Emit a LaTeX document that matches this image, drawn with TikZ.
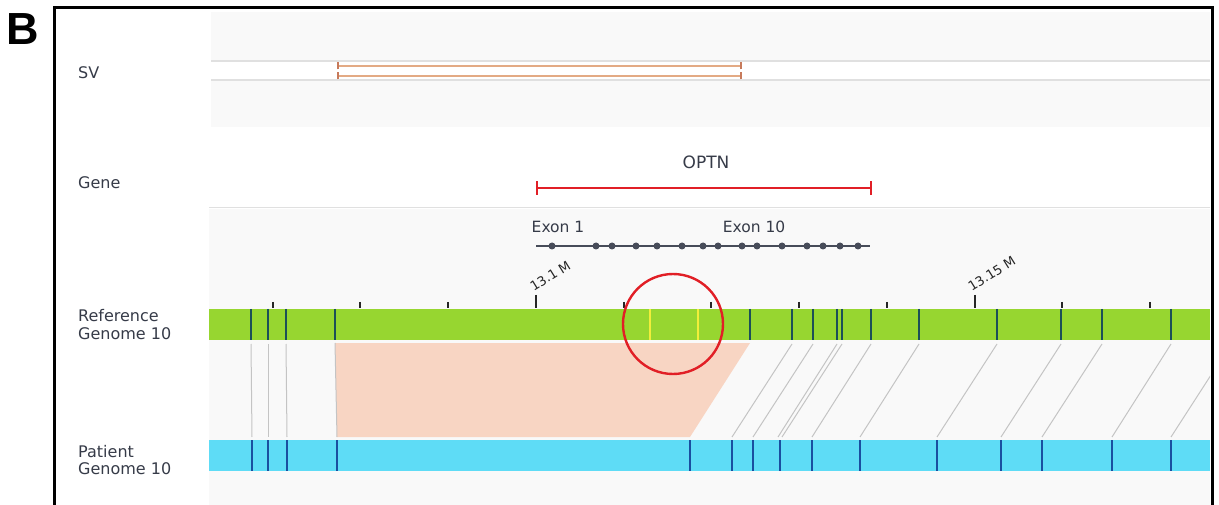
\documentclass[tikz,border=0pt]{standalone}
\usepackage{fontspec}
\setmainfont{DejaVu Sans}
\newfontfamily\panelfont{Liberation Sans}
\definecolor{panelgray}{HTML}{F9F9F9}
\definecolor{rulegray}{HTML}{E0E0E0}
\definecolor{labelgray}{HTML}{363B48}
\definecolor{refgreen}{HTML}{97D630}
\definecolor{patblue}{HTML}{5EDCF6}
\definecolor{greenmark}{HTML}{1C4F58}
\definecolor{bluemark}{HTML}{1A4FA0}
\definecolor{pinkfill}{HTML}{F8D5C3}
\definecolor{linkgray}{HTML}{C4C4C4}
\definecolor{genered}{HTML}{E11F26}
\definecolor{svtan}{HTML}{E3AA84}
\definecolor{svtick}{HTML}{C77A5B}
\definecolor{exongray}{HTML}{474C59}
\definecolor{markyellow}{HTML}{F2EE3A}
\begin{document}
\begin{tikzpicture}[x=1pt,y=-1pt,
  tracklabel/.style={font=\fontsize{16}{16}\selectfont, text=labelgray, anchor=base west, inner sep=0pt},
  exonlabel/.style={font=\fontsize{15.5}{15.5}\selectfont, text=labelgray, anchor=base, inner sep=0pt},
  ticklabel/.style={font=\fontsize{13}{13}\selectfont, text=black!85, rotate=32, anchor=south west, inner sep=0pt},
  rule/.style={draw=rulegray, line width=1.5pt},
  svline/.style={draw=svtan, line width=2.6pt},
  svend/.style={draw=svtick, line width=1.2pt},
  genebar/.style={draw=genered, line width=2.8pt},
  exonline/.style={draw=exongray, line width=2.2pt},
  exondot/.style={circle, fill=exongray, inner sep=0pt, minimum size=7pt},
  rulertick/.style={draw=black!85, line width=2pt},
  gmark/.style={draw=greenmark, line width=2.4pt},
  bmark/.style={draw=bluemark, line width=2.4pt},
  ymark/.style={draw=markyellow, line width=1.8pt},
  link/.style={draw=linkgray, line width=1pt},
]
\useasboundingbox (0,0) rectangle (1219,505);

% track panels
\fill[panelgray] (211,12) rectangle (1210,127);
\fill[white] (211,61) rectangle (1210,80);
\draw[rule] (211,61) -- (1210,61);
\draw[rule] (211,80) -- (1210,80);
\fill[panelgray] (209,209) rectangle (1210,505);
\draw[rule] (209,207.5) -- (1210,207.5);

% panel letter
\node[font=\panelfont\bfseries\fontsize{45}{45}\selectfont, anchor=base west, inner sep=0pt] (letter) at (6,45) {B};

% track labels
\node[tracklabel] (svlab) at (78,79) {SV};
\node[tracklabel] (genelab) at (78,189) {Gene};
\node[tracklabel] (reflab) at (78,321) {Reference};
\node[tracklabel] (reflabb) at (78,339) {Genome 10};
\node[tracklabel] (patlab) at (78,457) {Patient};
\node[tracklabel] (patlabb) at (78,474) {Genome 10};

% structural variant call
\foreach \y [count=\i] in {66,76} {
  \coordinate (svL\i) at (338,\y);
  \coordinate (svR\i) at (741,\y);
  \draw[svline] (svL\i) -- (svR\i);
  \draw[svend] ([yshift=-3.5pt]svL\i) -- ([yshift=3.5pt]svL\i);
  \draw[svend] ([yshift=-3.5pt]svR\i) -- ([yshift=3.5pt]svR\i);
}

% OPTN gene span
\node[font=\fontsize{17}{17}\selectfont, text=labelgray, anchor=base, inner sep=0pt] (optn) at (706,169) {OPTN};
\coordinate (optnL) at (537,188);
\coordinate (optnR) at (871,188);
\draw[genebar] (optnL) -- (optnR);
\draw[genebar] ([yshift=-7pt]optnL) -- ([yshift=7pt]optnL);
\draw[genebar] ([yshift=-7pt]optnR) -- ([yshift=7pt]optnR);

% exons
\node[exonlabel] (ex1) at (558,233) {Exon 1};
\node[exonlabel] (ex10) at (754,233) {Exon 10};
\coordinate (exL) at (536,246);
\coordinate (exR) at (870,246);
\draw[exonline] (exL) -- (exR);
\foreach \x [count=\i] in {552,596,612,636,657,682,703,718,742,757,782,807,823,840,858}
  \node[exondot] (exon\i) at (\x,246) {};

% coordinate ruler
\foreach \k in {0,...,10} {
  \pgfmathsetmacro\tx{272.5+87.75*\k}
  \ifnum\k=3 \draw[rulertick] (\tx,295) -- (\tx,308);
  \else\ifnum\k=8 \draw[rulertick] (\tx,295) -- (\tx,308);
  \else \draw[rulertick] (\tx,302) -- (\tx,308); \fi\fi
}
\node[ticklabel] (tick131) at (534,292) {13.1 M};
\node[ticklabel] (tick1315) at (972,292) {13.15 M};

\begin{scope}
\clip (209,300) rectangle (1210,480);
% deleted segment
\coordinate (delTL) at (335,343);
\coordinate (delTR) at (750,343);
\coordinate (delBR) at (690,437);
\coordinate (delBL) at (337,437);
\fill[pinkfill] (delTL) -- (delTR) -- (delBR) -- (delBL) -- cycle;
\draw[link] (delTL) -- (delBL);

% matching positions between the two genomes
\foreach \g/\b [count=\i] in {251/252,268/268,286/287,792/732,813/753,837/778,842/782,871/812,919/860,997/937,1061/1001,1102/1042,1171/1112,1231/1171} {
  \coordinate (top\i) at (\g,344);
  \coordinate (bot\i) at (\b,437);
  \draw[link] (top\i) -- (bot\i);
}

% reference genome bar
\fill[refgreen] (209,309) rectangle (1210,340);
\foreach \x in {251,268,286,335,750,792,813,837,842,871,919,997,1061,1102,1171}
  \draw[gmark] (\x,309) -- (\x,340);
\foreach \x in {650,698}
  \draw[ymark] (\x,309) -- (\x,340);

% patient genome bar
\fill[patblue] (209,440) rectangle (1210,471);
\foreach \x in {252,268,287,337,690,732,753,780,812,860,937,1001,1042,1112,1171}
  \draw[bmark] (\x,440) -- (\x,471);
\end{scope}

% highlighted breakpoint
\draw[draw=genered, line width=2.4pt] (673,324) circle [radius=50pt];

% frame
\draw[line width=3pt] (54,510) -- (54,8) -- (1212.5,8) -- (1212.5,510);
\end{tikzpicture}
\end{document}
